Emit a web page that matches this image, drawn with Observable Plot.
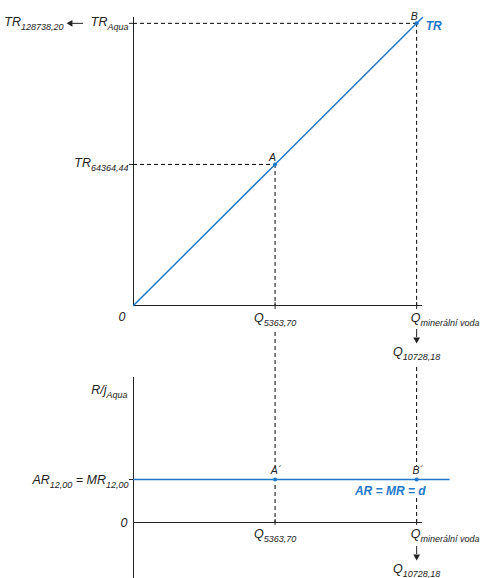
<!DOCTYPE html>
<html>
<head>
<meta charset="utf-8">
<script src="https://cdn.jsdelivr.net/npm/d3@7"></script>
<script src="https://cdn.jsdelivr.net/npm/@observablehq/plot@0.6"></script>
<style>
  html, body { margin: 0; padding: 0; background: #fff; }
  #chart { position: relative; width: 480px; height: 578px; overflow: hidden; }
  #chart svg { position: absolute; left: 0; top: 0; }
</style>
</head>
<body>
<div id="chart"></div>
<script>
// Quantities at points A and B, and total revenue there
const pointNames = ["A", "B"];
const qValues = [5363.70, 10728.18];
const trValues = [64364.44, 128738.20];
// Price: average revenue = marginal revenue = demand
const price = 12.00;

// Axis label subscripts
const qAxisNames = ["5363,70", "minerální voda"];
const qValueNote = "10728,18";
const trAxisNames = ["64364,44", "Aqua"];
const trValueNote = "128738,20";
const priceLabel = "12,00";

// Extent of the axes (TR line runs to the end of the quantity axis)
const qAxisEnd = 10950;
const trAxisEnd = 131400;
const pAxisEnd = 40.5;
const arLineEnd = 12000;

const W = 480, H = 578;
const font = "'Liberation Sans', Arial, Helvetica, sans-serif";
const blue = "#1f78c8";
const ink = "#222";
const dash = "4,3";

const pts = qValues.map((q, i) => ({q, tr: trValues[i], name: pointNames[i]}));
const trLine = [{q: 0, tr: 0}, ...pts, {q: qAxisEnd, tr: trAxisEnd}];
const firstQ = qValues[0];
const lastQ = qValues[qValues.length - 1];
const lastTR = trValues[trValues.length - 1];

const italic = {fontStyle: "italic", fill: ink};
const dashed = {stroke: "#000", strokeDasharray: dash};

// Upper panel: total revenue
const topPanel = Plot.plot({
  width: W, height: H,
  marginLeft: 133, marginRight: W - 422, marginTop: 17, marginBottom: H - 305,
  x: {domain: [0, qAxisEnd], axis: null},
  y: {domain: [0, trAxisEnd], axis: null},
  style: {background: "transparent", fontFamily: font, fontSize: "12.5px", overflow: "visible"},
  marks: [
    Plot.ruleX([0], {stroke: ink}),
    Plot.ruleY([0], {stroke: ink}),
    // dashed guides from the points to both axes
    Plot.ruleY(pts, {y: "tr", x1: 0, x2: "q", ...dashed}),
    Plot.ruleX(pts, {x: "q", y1: "tr", y2: 0, ...dashed}),
    // small ticks on the axes
    Plot.ruleX(pts, {x: "q", y1: 0, y2: 0, insetTop: -3, insetBottom: -4, stroke: ink}),
    Plot.ruleY(pts, {y: "tr", x1: 0, x2: 0, insetLeft: -4, insetRight: -1, stroke: ink}),
    // TR line
    Plot.line(trLine, {x: "q", y: "tr", stroke: blue, strokeWidth: 1.5}),
    Plot.dot(pts, {x: "q", y: "tr", r: 2, fill: blue}),
    Plot.text(pts, {x: "q", y: "tr", text: "name", dx: -2.5, dy: -7, fontSize: 10.5, ...italic}),
    Plot.text(["TR"], {x: lastQ, y: lastTR, dx: 9, dy: 3, textAnchor: "start", fill: blue,
      fontWeight: "bold", fontStyle: "italic", fontSize: 12}),
    // vertical axis labels
    Plot.text(pts, {x: 0, y: "tr", text: (d, i) => `TR_{${trAxisNames[i]}}`, textAnchor: "end", dx: -5, dy: -1, ...italic}),
    Plot.text([`TR_{${trValueNote}}`], {x: 0, y: lastTR, textAnchor: "end", dx: -70, dy: -1, ...italic}),
    Plot.ruleY([lastTR], {x1: 0, x2: 0, insetLeft: -62, insetRight: 50, stroke: ink}),
    Plot.dot([lastTR], {x: 0, y: d => d, dx: -63, symbol: "triangle", rotate: -90, r: 2.5, fill: ink, stroke: "none"}),
    Plot.text(["0"], {x: 0, y: 0, textAnchor: "end", dx: -8, dy: 11, ...italic}),
    // horizontal axis labels
    Plot.text([`Q_{${qAxisNames[0]}}`], {x: firstQ, y: 0, dy: 12, ...italic}),
    Plot.text([`Q_{${qAxisNames[1]}}`], {x: lastQ, y: 0, dx: -6, dy: 12, textAnchor: "start", ...italic}),
    Plot.ruleX([lastQ], {y1: 0, y2: 0, insetTop: 24, insetBottom: -32, stroke: ink}),
    Plot.dot([lastQ], {x: d => d, y: 0, dy: 34, symbol: "triangle", rotate: 180, r: 2.5, fill: ink, stroke: "none"}),
    Plot.text([`Q_{${qValueNote}}`], {x: lastQ, y: 0, dy: 46, ...italic})
  ]
});

// Lower panel: average and marginal revenue
const bottomPanel = Plot.plot({
  width: W, height: H,
  marginLeft: 133, marginRight: W - 422, marginTop: 377, marginBottom: H - 522,
  x: {domain: [0, qAxisEnd], axis: null},
  y: {domain: [0, pAxisEnd], axis: null},
  style: {background: "transparent", fontFamily: font, fontSize: "12.5px", overflow: "visible"},
  marks: [
    Plot.ruleX([0], {stroke: ink, insetBottom: -56}),
    Plot.ruleY([0], {stroke: ink}),
    // dashed guides continuing down from the upper panel, broken around the labels
    Plot.ruleX([firstQ], {y1: pAxisEnd, y2: price, insetTop: -45, insetBottom: 12, ...dashed}),
    Plot.ruleX([firstQ], {y1: price, y2: 0, insetTop: 6, ...dashed}),
    Plot.ruleX([lastQ], {y1: pAxisEnd, y2: price, insetTop: -10, insetBottom: 13, ...dashed}),
    Plot.ruleX([lastQ], {y1: price, y2: 0, insetTop: 19, ...dashed}),
    Plot.ruleX(qValues, {y1: 0, y2: 0, insetTop: -3, insetBottom: -3, stroke: ink}),
    Plot.ruleY([price], {x1: 0, x2: 0, insetLeft: -4, insetRight: -1, stroke: ink}),
    // AR = MR = d
    Plot.ruleY([price], {x1: 0, x2: arLineEnd, stroke: blue, strokeWidth: 1.5}),
    Plot.dot(qValues, {x: d => d, y: price, r: 2, fill: blue}),
    Plot.text(pointNames, {x: (d, i) => qValues[i], y: price, text: d => d + "´", dx: 1, dy: -9, fontSize: 10.5, ...italic}),
    Plot.text(["AR = MR = d"], {x: lastQ, y: price, textAnchor: "end", dx: 9, dy: 12, fill: blue,
      fontWeight: "bold", fontStyle: "italic", fontSize: 12}),
    // vertical axis labels
    Plot.text(["R/j_{Aqua}"], {frameAnchor: "top-left", textAnchor: "end", dx: -6, dy: 8, ...italic}),
    Plot.text([`AR_{${priceLabel}} = MR_{${priceLabel}}`], {x: 0, y: price, textAnchor: "end", dx: -5, ...italic}),
    Plot.text(["0"], {x: 0, y: 0, textAnchor: "end", dx: -6, ...italic}),
    // horizontal axis labels
    Plot.text([`Q_{${qAxisNames[0]}}`], {x: firstQ, y: 0, dy: 11, ...italic}),
    Plot.text([`Q_{${qAxisNames[1]}}`], {x: lastQ, y: 0, dx: -6, dy: 11, textAnchor: "start", ...italic}),
    Plot.ruleX([lastQ], {y1: 0, y2: 0, insetTop: 24, insetBottom: -32, stroke: ink}),
    Plot.dot([lastQ], {x: d => d, y: 0, dy: 34, symbol: "triangle", rotate: 180, r: 2.5, fill: ink, stroke: "none"}),
    Plot.text([`Q_{${qValueNote}}`], {x: lastQ, y: 0, dy: 46, ...italic})
  ]
});

// Turn "X_{sub}" label text into a main part and a lowered, smaller subscript
function setSubscripts(svg) {
  d3.select(svg).selectAll("text").each(function () {
    const s = this.textContent;
    if (!s.includes("_{")) return;
    const parts = s.split(/(_\{[^}]*\})/).filter(p => p !== "");
    this.textContent = "";
    let lowered = false;
    for (const p of parts) {
      const t = document.createElementNS("http://www.w3.org/2000/svg", "tspan");
      if (p.startsWith("_{")) {
        t.textContent = p.slice(2, -1);
        t.setAttribute("font-size", "9px");
        if (!lowered) t.setAttribute("dy", "4");
        lowered = true;
      } else {
        t.textContent = p;
        if (lowered) t.setAttribute("dy", "-4");
        lowered = false;
      }
      this.appendChild(t);
    }
  });
}

for (const svg of [topPanel, bottomPanel]) {
  setSubscripts(svg);
  document.getElementById("chart").appendChild(svg);
}
</script>
</body>
</html>
